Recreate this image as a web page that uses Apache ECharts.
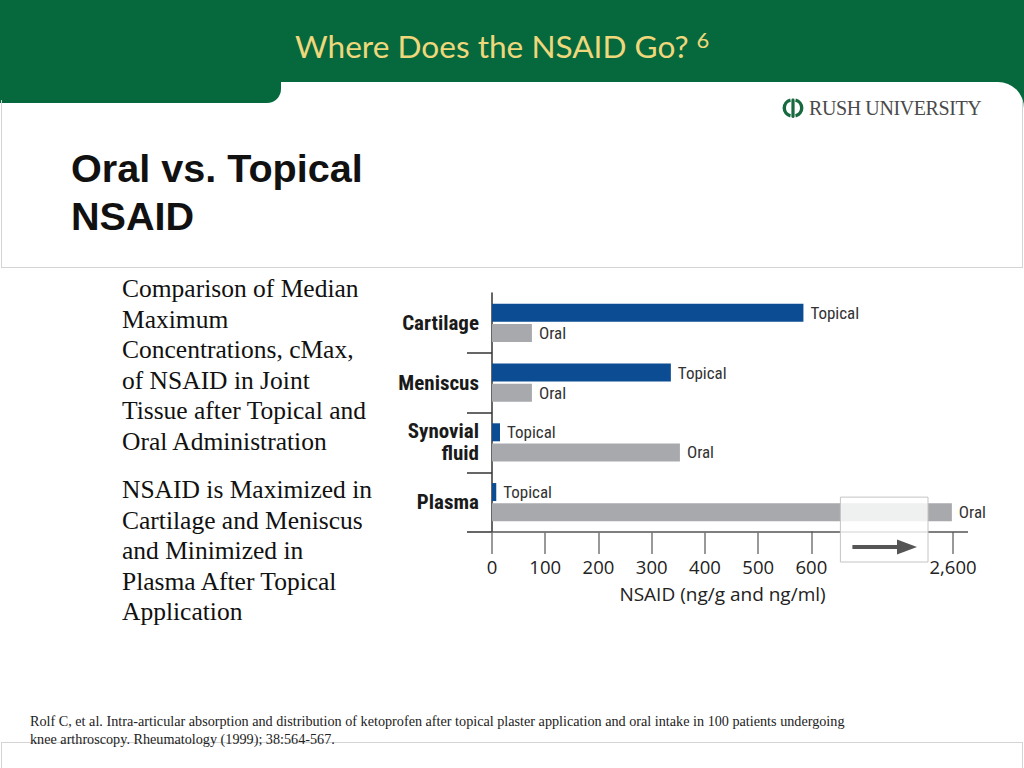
<!DOCTYPE html>
<html>
<head>
<meta charset="utf-8">
<script src="https://cdn.jsdelivr.net/npm/echarts@6/dist/echarts.min.js"></script>
<style>
html,body{margin:0;padding:0;width:1024px;height:768px;overflow:hidden;background:#fff;}
.abs{position:absolute;}
#band{left:0;top:0;width:1024px;height:130px;background:#05693D;}
#body{left:0;top:82px;width:1024px;height:686px;background:#fff;border-top-right-radius:26px;}
#tab{left:0;top:70px;width:281px;height:33px;background:#05693D;border-bottom-right-radius:14px;}
#htitle{left:295px;top:31px;font-family:Lato,'Open Sans',sans-serif;font-size:31.6px;line-height:31px;color:#EFD77C;white-space:nowrap;}
#htitle sup{font-size:22px;vertical-align:0;position:relative;top:-10px;margin-left:8px;}
#titlebox{left:1px;top:100px;width:1020px;height:167px;border:1px solid #d4d4d4;border-top:none;}
#bottombox{left:1px;top:742px;width:1020px;height:40px;border:1px solid #d4d4d4;}
#logo{left:782px;top:97px;}
#logotext{left:809px;top:96px;font-family:'Liberation Serif','Times New Roman',serif;font-size:20px;line-height:24px;color:#4a4a4a;letter-spacing:-0.4px;white-space:nowrap;}
#title{left:71px;top:144px;font-family:'Liberation Sans',Arial,sans-serif;font-weight:bold;font-size:39.6px;line-height:48px;color:#111;white-space:nowrap;}
#bullets{left:122px;top:274px;font-family:'Liberation Serif','Times New Roman',serif;font-size:25.5px;line-height:30.6px;color:#111;white-space:nowrap;}
#bullets p{margin:0 0 17.5px 0;}
#foot{left:30px;top:712px;font-family:'Liberation Serif','Times New Roman',serif;font-size:14.2px;line-height:18px;color:#222;white-space:nowrap;}
#chart{left:0;top:0;width:1024px;height:768px;z-index:5;}
</style>
</head>
<body>
<div id="band" class="abs"></div>
<div id="body" class="abs"></div>
<div id="tab" class="abs"></div>
<div id="htitle" class="abs">Where Does the NSAID Go?<sup>6</sup></div>
<div id="titlebox" class="abs"></div>
<div id="bottombox" class="abs"></div>
<svg id="logo" class="abs" width="22" height="22" viewBox="0 0 22 22">
  <path d="M8.5 3.2 A8 8 0 0 0 8.5 18.8" stroke="#17693F" stroke-width="3.4" fill="none"/>
  <path d="M13.5 3.2 A8 8 0 0 1 13.5 18.8" stroke="#17693F" stroke-width="3.4" fill="none"/>
  <rect x="9.4" y="1.5" width="3.2" height="19.5" rx="1.4" fill="#17693F"/>
</svg>
<div id="logotext" class="abs">RUSH UNIVERSITY</div>
<div id="title" class="abs">Oral vs. Topical<br>NSAID</div>
<div id="bullets" class="abs">
<p>Comparison of Median<br>Maximum<br>Concentrations, cMax,<br>of NSAID in Joint<br>Tissue after Topical and<br>Oral Administration</p>
<p>NSAID is Maximized in<br>Cartilage and Meniscus<br>and Minimized in<br>Plasma After Topical<br>Application</p>
</div>
<div id="foot" class="abs">Rolf C, et al. Intra-articular absorption and distribution of ketoprofen after topical plaster application and oral intake in 100 patients undergoing<br>knee arthroscopy. Rheumatology (1999); 38:564-567.</div>
<div id="chart" class="abs"></div>
<script>
// ---- data ----
const categories = ['Cartilage', 'Meniscus', 'Synovial\nfluid', 'Plasma'];
const topicalValues = [585, 336, 15, 8];
const oralValues = [75, 75, 353, 2584];
const seriesNames = ['Topical', 'Oral'];
const tickLabels = [0, 100, 200, 300, 400, 500, 600, 2600];
const axisTitle = 'NSAID (ng/g and ng/ml)';
const axisBreak = { start: 600, end: 2600, gap: 266 };

const narrow = "'Roboto Condensed','Liberation Sans Narrow','Arial Narrow','DejaVu Sans Condensed',sans-serif";
const chart = echarts.init(document.getElementById('chart'), null, { renderer: 'svg', width: 1024, height: 768 });

function barLabel(text) {
  return { show: true, position: 'right', distance: 7, formatter: text,
    fontSize: 17, fontFamily: narrow, color: '#333' };
}

chart.setOption({
  backgroundColor: 'transparent',
  animation: false,
  grid: { left: 492, top: 293, width: 461, height: 239 },
  xAxis: {
    type: 'value', min: 0, max: 2600, interval: 100,
    breaks: [axisBreak],
    breakArea: { show: false },
    axisLine: { show: true, lineStyle: { color: '#555', width: 1.5 } },
    axisTick: { show: true, length: 22, lineStyle: { color: '#777', width: 1.5 } },
    splitLine: { show: false },
    axisLabel: {
      margin: 25, fontSize: 18.5, fontFamily: "'Open Sans',sans-serif", color: '#222',
      formatter: function (v) {
        if (tickLabels.indexOf(v) < 0) return '';
        return v >= 1000 ? v.toLocaleString('en-US') : String(v);
      }
    },
    name: axisTitle, nameLocation: 'middle', nameGap: 52,
    nameTextStyle: { fontSize: 19, fontFamily: "'Open Sans',sans-serif", color: '#222' }
  },
  yAxis: {
    type: 'category', data: categories, inverse: true,
    axisLine: { show: true, lineStyle: { color: '#333', width: 1.5 } },
    axisTick: { show: true, length: 25, interval: function (i) { return i !== 0; },
      lineStyle: { color: '#333', width: 1.5 } },
    axisLabel: { margin: 13, fontSize: 21, fontWeight: 'bold', fontFamily: narrow,
      color: '#1a1a1a', lineHeight: 22 }
  },
  series: [
    { name: seriesNames[0], type: 'bar', data: topicalValues, barWidth: 18, barGap: '12%',
      itemStyle: { color: '#0B4C93' }, label: barLabel(seriesNames[0]) },
    { name: seriesNames[1], type: 'bar', data: oralValues, barWidth: 18, barGap: '12%',
      itemStyle: { color: '#A7A9AC' }, label: barLabel(seriesNames[1]) }
  ]
});

// axis line across the break, extension, and break marker box + arrow, positioned from the axes
const xp = v => chart.convertToPixel({ xAxisIndex: 0 }, v);
const yp = c => chart.convertToPixel({ yAxisIndex: 0 }, c);
const xs = xp(axisBreak.start), xe = xp(axisBreak.end);
const bx1 = xs + 29, bx2 = xe - 25;
const yLast = yp(categories[3]), step = yLast - yp(categories[2]);
const axisY = yLast + step / 2;
const boxTop = yLast - 5, boxBot = axisY + 30, ay = axisY + 15;
chart.setOption({
  graphic: [
    { type: 'line', z: 50, shape: { x1: xs, y1: axisY, x2: xe + 15, y2: axisY },
      style: { stroke: '#555', lineWidth: 1.5 } },
    { type: 'rect', z: 100, shape: { x: bx1, y: boxTop, width: bx2 - bx1, height: boxBot - boxTop },
      style: { fill: 'rgba(255,255,255,0.82)', stroke: '#c4c4c4', lineWidth: 1 } },
    { type: 'line', z: 101, shape: { x1: bx1 + 12, y1: ay, x2: bx2 - 28, y2: ay },
      style: { stroke: '#555', lineWidth: 4 } },
    { type: 'polygon', z: 101, shape: { points: [[bx2 - 31, ay - 7.5], [bx2 - 11, ay], [bx2 - 31, ay + 7.5]] },
      style: { fill: '#555' } }
  ]
});
</script>
</body>
</html>
